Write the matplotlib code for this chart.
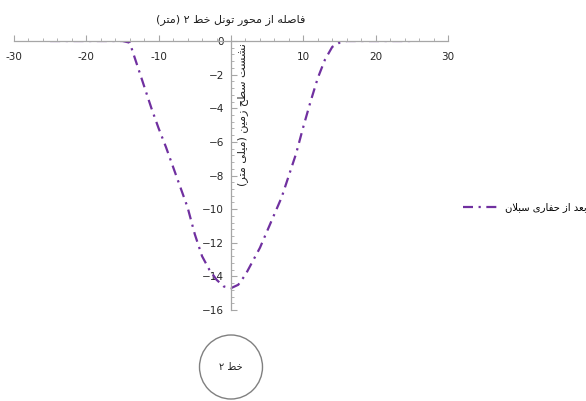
import matplotlib
matplotlib.use('Agg')
import matplotlib.pyplot as plt
from matplotlib.ticker import MultipleLocator, FuncFormatter
from matplotlib.patches import Ellipse

# distance from tunnel axis [m] and surface settlement [mm]
dist = [-25, -22, -20, -18, -16, -15, -14, -13, -12, -11, -10, -9, -8, -7, -6,
        -5, -4, -3, -2, -1, 0, 1, 2, 3, 4, 5, 6, 7, 8, 9, 10, 11, 12, 13, 14,
        15, 16, 18, 20, 22, 25]
settlement = [0, 0, 0, 0, 0, 0, -0.1, -1.4, -2.7, -4.0, -5.2, -6.3, -7.5, -8.7, -9.9,
              -11.5, -12.8, -13.6, -14.2, -14.6, -14.7, -14.5, -13.9, -13.1, -12.3, -11.3, -10.3, -9.3, -8.0, -6.7, -5.1, -3.6, -2.2, -1.1, -0.35,
              -0.1, 0, 0, 0, 0, 0]

x_title = 'فاصله از محور تونل خط ۲ (متر)'
y_title = 'نشست سطح زمین (میلی متر)'
series_name = 'بعد از حفاری سبلان'
tunnel_name = 'خط ۲'

# matplotlib has no arabic shaping, so map letters to presentation forms
DUAL = {'ب': 0xFE8F, 'ت': 0xFE95, 'ح': 0xFEA1, 'خ': 0xFEA5, 'س': 0xFEB1,
        'ش': 0xFEB5, 'ص': 0xFEB9, 'ط': 0xFEC1, 'ع': 0xFEC9, 'ف': 0xFED1,
        'ل': 0xFEDD, 'م': 0xFEE1, 'ن': 0xFEE5, 'ه': 0xFEE9}
RIGHT = {'ا': 0xFE8D, 'د': 0xFEA9, 'ر': 0xFEAD, 'ز': 0xFEAF, 'و': 0xFEED}
YEH = (0xFEEF, 0xFEF0, 0xFEF3, 0xFEF4)


def forms(ch):
    if ch in DUAL:
        b = DUAL[ch]
        return (b, b + 1, b + 2, b + 3)
    if ch in RIGHT:
        b = RIGHT[ch]
        return (b, b + 1, None, None)
    if ch == 'ی':
        return YEH
    return None


def shape(text):
    out = []
    i = 0
    while i < len(text):
        ch = text[i]
        prev = forms(text[i - 1]) if i > 0 else None
        join_prev = prev is not None and prev[2] is not None
        # lam-alef ligature
        if ch == 'ل' and text[i + 1:i + 2] == 'ا':
            out.append(chr(0xFEFC if join_prev else 0xFEFB))
            i += 2
            continue
        f = forms(ch)
        if f is None:
            out.append(ch)
        else:
            nxt = forms(text[i + 1]) if i + 1 < len(text) else None
            join_next = nxt is not None and f[2] is not None
            k = (1 if join_prev else 0) + (2 if join_next else 0)
            out.append(chr(f[k]))
        i += 1
    mirror = {'(': ')', ')': '('}
    return ''.join(mirror.get(c, c) for c in reversed(out))


plt.rcParams['font.family'] = ['DejaVu Sans']

fig = plt.figure(figsize=(5.86, 4.01), dpi=100)
ax = fig.add_axes([14 / 586, 1 - 310 / 401, 434 / 586, 269 / 401])

ax.plot(dist, settlement, color='#7030A0', lw=1.6, dashes=(4.5, 2.5, 1, 2.5),
        label=shape(series_name))

ax.set_xlim(-30, 30)
ax.set_ylim(-16, 0)
ax.spines['bottom'].set_position(('data', 0))
ax.spines['left'].set_position(('data', 0))
ax.spines['top'].set_visible(False)
ax.spines['right'].set_visible(False)
for s in ['bottom', 'left']:
    ax.spines[s].set_color('#a6a6a6')
    ax.spines[s].set_linewidth(0.9)

ax.xaxis.set_major_locator(MultipleLocator(10))
ax.xaxis.set_minor_locator(MultipleLocator(2))
ax.yaxis.set_major_locator(MultipleLocator(2))
ax.yaxis.set_minor_locator(MultipleLocator(0.4))
# the x label at the origin sits on the y axis, leave it out
ax.xaxis.set_major_formatter(FuncFormatter(lambda v, pos: '' if v == 0 else f'{v:g}'))
ax.tick_params(which='both', direction='in', color='#a6a6a6', labelsize=7.5,
               labelcolor='#262626')
ax.tick_params(which='major', length=4)
ax.tick_params(which='minor', length=2.5)
ax.tick_params(axis='x', pad=8)
ax.tick_params(axis='y', pad=5)
ax.patch.set_visible(False)

fig.text(231 / 586, 1 - 20 / 401, shape(x_title), ha='center', va='center',
         fontsize=8, color='#202020')
ax.text(1.6, -4.4, shape(y_title), rotation=90, ha='center', va='center',
        fontsize=8, color='#202020')

ax.legend(loc='center left', bbox_to_anchor=(458 / 586, 1 - 207 / 401),
          bbox_transform=fig.transFigure, frameon=False, fontsize=7.2,
          handlelength=3.6, handletextpad=0.6, borderpad=0)

# tunnel cross-section circle
fig.add_artist(Ellipse((231 / 586, 1 - 367 / 401), 63 / 586, 64 / 401,
                       transform=fig.transFigure, fill=False,
                       ec='#808080', lw=1))
fig.text(231 / 586, 1 - 367 / 401, shape(tunnel_name), ha='center',
         va='center', fontsize=7, color='#202020')

fig.savefig('out.png', dpi=100)
